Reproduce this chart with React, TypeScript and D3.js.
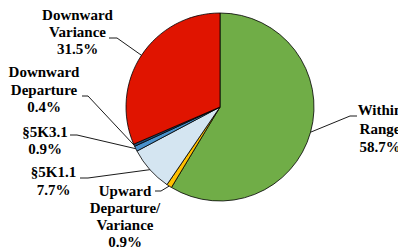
import React from "react";
import * as d3 from "d3";

const categories = ["Within Range", "Upward Departure/Variance", "§5K1.1", "§5K3.1", "Downward Departure", "Downward Variance"];
const values = [58.7, 0.9, 7.7, 0.9, 0.4, 31.5];
const labelLines = [
  ["Within", "Range", "58.7%"],
  ["Upward", "Departure/", "Variance", "0.9%"],
  ["§5K1.1", "7.7%"],
  ["§5K3.1", "0.9%"],
  ["Downward", "Departure", "0.4%"],
  ["Downward", "Variance", "31.5%"],
];
const colors = ["#70AD47", "#FFC000", "#D4E5F1", "#4A92CC", "#1F4E79", "#E01400"];

// label layout: center x, baselines, leader start (at text) and elbow
const labelLayout = [
  { cx: 380, ys: [115, 133.5, 151.5], lx0: 357, lx1: 350, ly: 116 },
  { cx: 125, ys: [196, 213, 230, 247], lx0: 155, lx1: 161, ly: 191 },
  { cx: 53.5, ys: [177, 194.5], lx0: 80, lx1: 88, ly: 178 },
  { cx: 45, ys: [137, 153.5], lx0: 70, lx1: 77, ly: 135 },
  { cx: 44, ys: [77, 94.5, 111.5], lx0: 82, lx1: 88, ly: 96 },
  { cx: 77.5, ys: [20, 37, 53.5], lx0: 109, lx1: 117, ly: 38 },
];

const W = 398, H = 252;
const CX = 220, CY = 107, R = 94;

export default function App() {
  const pie = d3.pie<number>().sort(null).value((d) => d)(values);
  const arc = d3.arc<d3.PieArcDatum<number>>().innerRadius(0).outerRadius(R);
  return (
    <svg width={W} height={H} style={{ position: "absolute", left: 0, top: 0, display: "block" }}>
      <rect width={W} height={H} fill="#fff" />
      <g transform={`translate(${CX},${CY})`}>
        {pie.map((p, i) => (
          <path key={categories[i]} d={arc(p) || ""} fill={colors[i]} stroke="#000" strokeWidth={0.8} strokeLinejoin="round" />
        ))}
      </g>
      {pie.map((p, i) => {
        const a = (p.startAngle + p.endAngle) / 2;
        const px = CX + R * Math.sin(a);
        const py = CY - R * Math.cos(a);
        const L = labelLayout[i];
        return (
          <g key={"l" + i}>
            <polyline
              points={`${L.lx0},${L.ly} ${L.lx1},${L.ly} ${px},${py}`}
              fill="none"
              stroke="#000"
              strokeWidth={0.9}
            />
            <text
              style={{ fontFamily: "Liberation Serif", fontWeight: 700, fontSize: "15px" }}
              textAnchor="middle"
              fill="#000"
            >
              {labelLines[i].map((t, j) => (
                <tspan key={j} x={L.cx} y={L.ys[j]}>
                  {t}
                </tspan>
              ))}
            </text>
          </g>
        );
      })}
    </svg>
  );
}
